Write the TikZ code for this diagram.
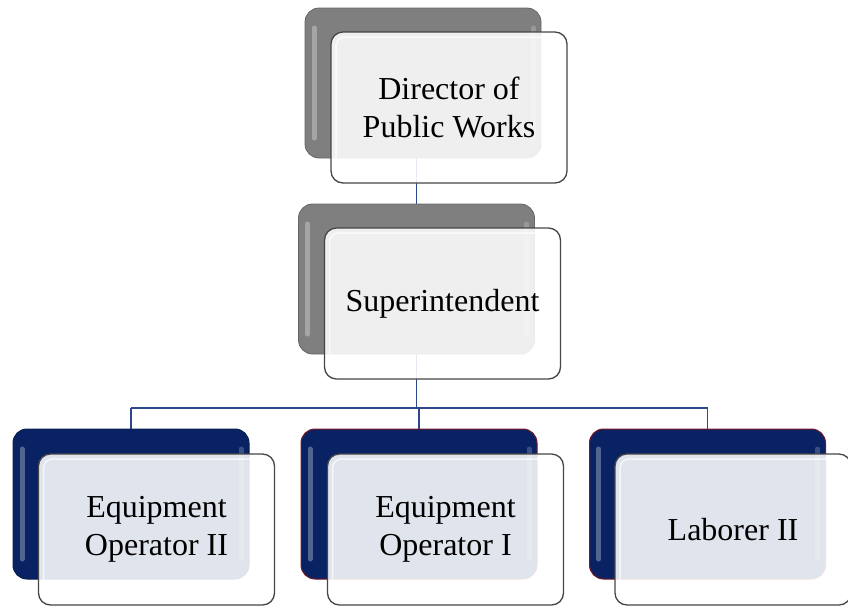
\documentclass[tikz,border=0pt]{standalone}
\usepackage{fontspec}
\setmainfont{Liberation Serif}
\pgfdeclarelayer{bg}
\pgfsetlayers{bg,main}
\definecolor{graybk}{RGB}{127,127,127}
\definecolor{navybk}{RGB}{8,34,100}
\definecolor{linecol}{RGB}{45,70,140}
\definecolor{frontborder}{RGB}{70,70,70}
\definecolor{redborder}{RGB}{120,24,36}
\definecolor{navyborder}{RGB}{10,30,80}
\tikzset{
  backbox/.style={rectangle, rounded corners=14pt, minimum width=236pt, minimum height=150pt, inner sep=0pt, outer sep=0pt},
  graybox/.style={backbox, fill=graybk, draw=graybk!80!black, line width=0.8pt},
  navybox/.style={backbox, fill=navybk, draw=#1, line width=1pt},
  frontbox/.style={rectangle, rounded corners=12pt, minimum width=236pt, minimum height=151pt, inner sep=0pt, outer sep=0pt,
    draw=frontborder, draw opacity=1, line width=1.3pt, fill=white, fill opacity=0.88, text opacity=1, align=center,
    font=\fontsize{32}{38}\selectfont},
  conn/.style={draw=linecol, line width=1.6pt},
  glossline/.style={white, opacity=0.3, line width=5pt, line cap=round}
}
\newcommand{\glossback}[1]{%
  \draw[glossline] ([xshift=9pt,yshift=-20pt]#1.north west) -- ([xshift=9pt,yshift=20pt]#1.south west);
  \draw[glossline, opacity=0.2] ([xshift=-8pt,yshift=-20pt]#1.north east) -- ([xshift=-8pt,yshift=20pt]#1.south east);}
\newcommand{\glossfront}[1]{%
  \draw[white, opacity=0.7, line width=1.5pt, rounded corners=9pt] ([xshift=5pt,yshift=-5pt]#1.north west) rectangle ([xshift=-5pt,yshift=5pt]#1.south east);}
\begin{document}
\begin{tikzpicture}[x=1pt,y=-1pt]
\useasboundingbox (0,0) rectangle (848,606);
% back boxes
\node[graybox] (dirB) at (423,83) {};
\node[graybox] (supB) at (416.5,279) {};
\node[navybox=navyborder] (eq2B) at (131,504) {};
\node[navybox=redborder] (eq1B) at (419,504) {};
\node[navybox=redborder] (labB) at (707.5,504) {};
\glossback{dirB}
\glossback{supB}
\glossback{eq2B}
\glossback{eq1B}
\glossback{labB}
% front boxes
\node[frontbox] (dir) at (449,107.5) {Director of\\Public Works};
\node[frontbox] (sup) at (442.5,303.5) {Superintendent};
\node[frontbox] (eq2) at (156.5,529.5) {Equipment\\Operator II};
\node[frontbox] (eq1) at (445.5,529.5) {Equipment\\Operator I};
\node[frontbox] (lab) at (733,529.5) {Laborer II};
\glossfront{dir}
\glossfront{sup}
\glossfront{eq2}
\glossfront{eq1}
\glossfront{lab}
% connectors
\coordinate (bus) at (0,408);
\begin{pgfonlayer}{bg}
\draw[conn] (supB.north |- dirB.center) -- (supB.north);
\draw[conn] (supB.center) -- (supB.center |- bus);
\draw[conn] (eq2B.north |- bus) -- (labB.north |- bus);
\draw[conn] (eq2B.north |- bus) -- (eq2B.north);
\draw[conn] (eq1B.north |- bus) -- (eq1B.north);
\draw[conn] (labB.north |- bus) -- (labB.north);
\end{pgfonlayer}
\end{tikzpicture}
\end{document}
